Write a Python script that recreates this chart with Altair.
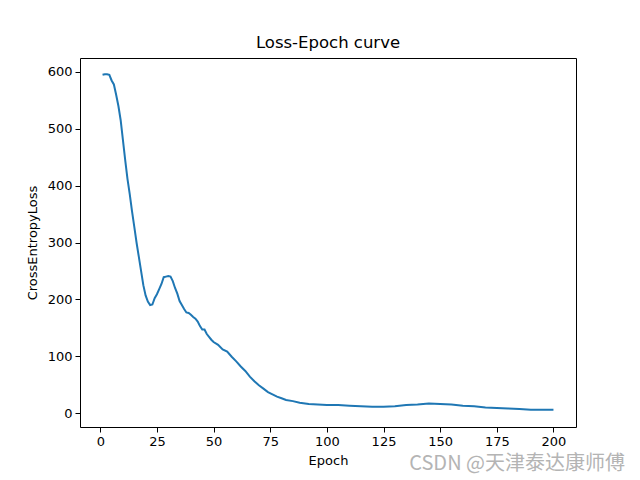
import altair as alt
import pandas as pd

epochs = [1, 2, 3, 4, 5, 6, 7, 8, 9, 10, 11, 12, 13, 14, 15, 16, 17, 18, 19, 20,
          21, 22, 23, 24, 25, 26, 27, 28, 29, 30, 31, 32, 33, 34, 35, 36, 37, 38, 39, 40,
          41, 42, 43, 44, 45, 46, 47, 48, 49, 50, 52, 54, 56, 58, 60, 62, 64, 66, 68, 70,
          72, 74, 76, 78, 80, 82, 85, 88, 92, 96, 100, 105, 110, 115, 120, 125, 130, 135,
          140, 145, 150, 155, 160, 165, 170, 175, 180, 185, 190, 195, 200]
losses = [595, 596, 596, 595, 585, 578, 560, 540, 515, 480, 445, 412, 385, 355, 328, 300, 275, 250, 225, 207,
          196, 190, 191, 202, 209, 218, 227, 239, 240, 241, 240, 232, 220, 210, 197, 190, 183, 177, 176, 173,
          169, 166, 161, 153, 147, 147, 139, 134, 129, 125, 120, 112, 108, 99, 91, 82, 74, 64, 56, 49,
          43, 37, 33, 29, 26, 23, 21, 18, 16, 15, 14, 14, 13, 12, 11, 11, 12, 14,
          15, 17, 16, 15, 13, 12, 10, 9, 8, 7, 6, 6, 6]

x_ticks = [0, 25, 50, 75, 100, 125, 150, 175, 200]
y_ticks = [0, 100, 200, 300, 400, 500, 600]

df = pd.DataFrame({"Epoch": epochs, "Loss": losses})

FONT = "DejaVu Sans"

line = alt.Chart(df).mark_line(color="#1f77b4", strokeWidth=2).encode(
    x=alt.X("Epoch:Q",
            scale=alt.Scale(domain=[-8.95, 209.95], nice=False, zero=False),
            axis=alt.Axis(values=x_ticks, title="Epoch", grid=False, domain=False,
                          tickColor="black", tickSize=5, labelPadding=3,
                          labelFontSize=13, labelColor="black", labelFont=FONT,
                          titleFont=FONT, titleFontSize=13, titleFontWeight="normal",
                          titleColor="black", titlePadding=6, labelFlush=False)),
    y=alt.Y("Loss:Q",
            scale=alt.Scale(domain=[-24.5, 624.5], nice=False, zero=False),
            axis=alt.Axis(values=y_ticks, title="CrossEntropyLoss", grid=False, domain=False,
                          tickColor="black", tickSize=5, labelPadding=3,
                          labelFontSize=13, labelColor="black", labelFont=FONT,
                          titleFont=FONT, titleFontSize=13, titleFontWeight="normal",
                          titleColor="black", titlePadding=8, labelFlush=False)),
)

watermark = alt.Chart(pd.DataFrame({"t": ["CSDN @天津泰达康师傅"]})).mark_text(
    font="Noto Sans CJK SC", fontSize=20, color="#b4b4b4", align="right", baseline="middle"
).encode(x=alt.value(545), y=alt.value(406), text="t:N")

chart = alt.layer(line, watermark).properties(
    width=496, height=369,
    background="white",
    title=alt.TitleParams("Loss-Epoch curve", font=FONT, fontSize=16.5, fontWeight="normal",
                          color="black", offset=7),
    autosize=alt.AutoSizeParams(type="none"),
    padding={"left": 80, "top": 58, "right": 64, "bottom": 53},
).configure_view(stroke="black", strokeWidth=1)

chart.save("out.html", embed_options={"renderer": "svg", "actions": False})
